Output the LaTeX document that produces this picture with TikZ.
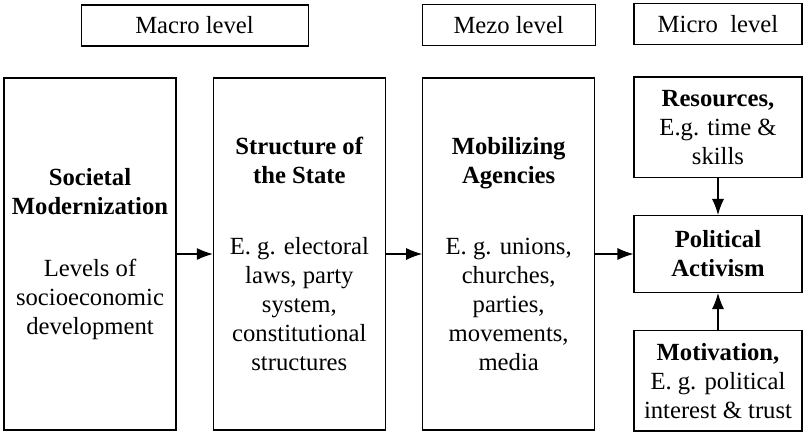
\documentclass[tikz,border=0pt]{standalone}
\usepackage{fontspec}
\setmainfont{Liberation Serif}
\usepackage{tikz}
\usetikzlibrary{arrows.meta}

\begin{document}
\begin{tikzpicture}[->, >={Latex[length=12pt,width=9pt]}, line width=0.8pt,
    node distance=157pt, align=center,
    font=\fontsize{18.5}{21.75}\selectfont]

  \tikzstyle{every node}=[draw, inner sep=2pt]
  \tikzstyle{head}=[minimum height=30.75pt]
  \tikzstyle{tall}=[minimum width=129pt, minimum height=264pt]
  \tikzstyle{side}=[minimum width=126pt, minimum height=75.5pt]

  \useasboundingbox[-] (0pt,0pt) rectangle (602.25pt,-324.75pt);

  \node[tall] (SOC) at (67.5pt,-190.5pt)
  {\textbf{Societal}\\\textbf{Modernization}\\[25pt]Levels of\\socioeconomic\\development};
  \node[tall] (STATE) [right of=SOC]
  {\textbf{Structure of}\\\textbf{the State}\\[32pt]E. g. electoral\\laws, party\\system,\\constitutional\\structures};
  \node[tall] (AGENCY) [right of=STATE]
  {\textbf{Mobilizing}\\\textbf{Agencies}\\[32pt]E. g. unions,\\churches,\\parties,\\movements,\\media};
  \node[side, minimum height=57.75pt] (ACT) [right of=AGENCY]
  {\textbf{Political}\\\textbf{Activism}};
  \node[side, node distance=95pt] (RES) [above of=ACT]
  {\textbf{Resources,}\\E.g. time \&\\skills};
  \node[side, node distance=95pt] (MOT) [below of=ACT]
  {\textbf{Motivation,}\\E. g. political\\interest \& trust};

  \node[head, minimum width=170.25pt] (MACRO) at (145.9pt,-19.1pt) {Macro level};
  \node[head, minimum width=129.75pt, node distance=171.5pt] (MEZO) [above of=AGENCY] {Mezo level};
  \node[head, minimum width=126pt, node distance=77.25pt] (MICRO) [above of=RES] {Micro~~level};

  \path
  (SOC) edge (STATE)
  (STATE) edge (AGENCY)
  (AGENCY) edge (ACT)
  (RES) edge (ACT)
  (MOT) edge (ACT);
\end{tikzpicture}
\end{document}
